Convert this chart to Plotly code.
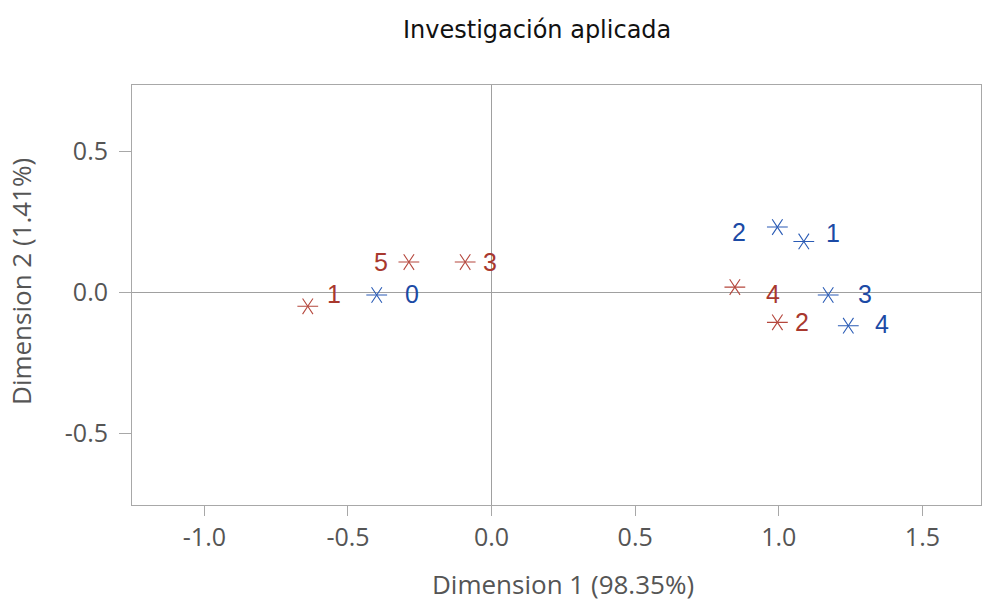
import plotly.graph_objects as go

# Column categories (blue)
col_labels = ["0", "2", "1", "3", "4"]
col_dim1 = [-0.400, 0.995, 1.087, 1.172, 1.242]
col_dim2 = [-0.009, 0.232, 0.181, -0.009, -0.118]

# Row categories (red)
row_labels = ["1", "5", "3", "4", "2"]
row_dim1 = [-0.640, -0.288, -0.092, 0.847, 0.995]
row_dim2 = [-0.049, 0.108, 0.108, 0.019, -0.106]

title_text = "Investigación aplicada"
x_title = "Dimension 1 (98.35%)"
y_title = "Dimension 2 (1.41%)"
x_ticks = [-1.0, -0.5, 0.0, 0.5, 1.0, 1.5]
y_ticks = [-0.5, 0.0, 0.5]

# label offsets in pixels (style only)
col_shift = [(35, 1), (-38, -5), (29, 8), (37, 1), (34, 2)]
row_shift = [(26, 12), (-28, 0), (25, 0), (38, -7), (25, 0)]

BLUE = "#2A5BB5"
BLUE_TXT = "#1B4AA5"
RED = "#B5473D"
RED_TXT = "#A8382E"
GREY_TXT = "#555555"

fig = go.Figure()
# six-armed asterisk = two overlaid three-armed "y" markers
for xs, ys, col in [(col_dim1, col_dim2, BLUE), (row_dim1, row_dim2, RED)]:
    for sym in ["y-right-open", "y-left-open"]:
        fig.add_trace(go.Scatter(x=xs, y=ys, mode="markers", hoverinfo="skip",
                                 marker=dict(symbol=sym, size=13, color=col,
                                             line=dict(color=col, width=1.1)),
                                 showlegend=False))

for lab, x, y, (dx, dy) in zip(col_labels, col_dim1, col_dim2, col_shift):
    fig.add_annotation(x=x, y=y, text=lab, showarrow=False, xshift=dx, yshift=dy,
                       font=dict(family="Liberation Sans, Arial", size=25, color=BLUE_TXT))
for lab, x, y, (dx, dy) in zip(row_labels, row_dim1, row_dim2, row_shift):
    fig.add_annotation(x=x, y=y, text=lab, showarrow=False, xshift=dx, yshift=dy,
                       font=dict(family="Liberation Sans, Arial", size=25, color=RED_TXT))

# chart title
fig.add_annotation(x=0.4776, y=1, xref="paper", yref="paper", yanchor="middle",
                   yshift=55, text=title_text, showarrow=False,
                   font=dict(family="DejaVu Sans", size=24, color="#111111"))
# axis titles
fig.add_annotation(x=0.5077, y=0, xref="paper", yref="paper", yanchor="middle",
                   yshift=-79, text=x_title, showarrow=False, borderpad=0,
                   font=dict(family="Open Sans", size=26, color=GREY_TXT))
fig.add_annotation(x=0, y=0.531, xref="paper", yref="paper", xanchor="center",
                   yanchor="middle", xshift=-111, textangle=-90, text=y_title,
                   showarrow=False,
                   font=dict(family="Open Sans", size=26, color=GREY_TXT))

axis_common = dict(showgrid=False, zeroline=True, zerolinecolor="#A0A0A0",
                   zerolinewidth=1, showline=True, linecolor="#A8A8A8",
                   linewidth=1, mirror=True, ticks="outside",
                   tickcolor="#A8A8A8", automargin=False,
                   tickfont=dict(family="Open Sans", size=25, color=GREY_TXT))

fig.update_layout(
    width=982, height=601,
    margin=dict(l=132, r=1, t=85, b=96, autoexpand=False),
    paper_bgcolor="white", plot_bgcolor="white",
    xaxis=dict(range=[-1.252, 1.704], tickvals=x_ticks,
               ticktext=[f"{v:.1f}" for v in x_ticks], ticklen=10,
               **axis_common),
    yaxis=dict(range=[-0.754, 0.736], tickvals=y_ticks,
               ticktext=[f"{v:.1f}" for v in y_ticks], ticklen=12,
               ticklabelstandoff=6,
               **axis_common),
)

fig.write_html("out.html", config={"displayModeBar": False},
               post_script="document.body.style.margin='0';document.body.style.overflow='hidden';")
